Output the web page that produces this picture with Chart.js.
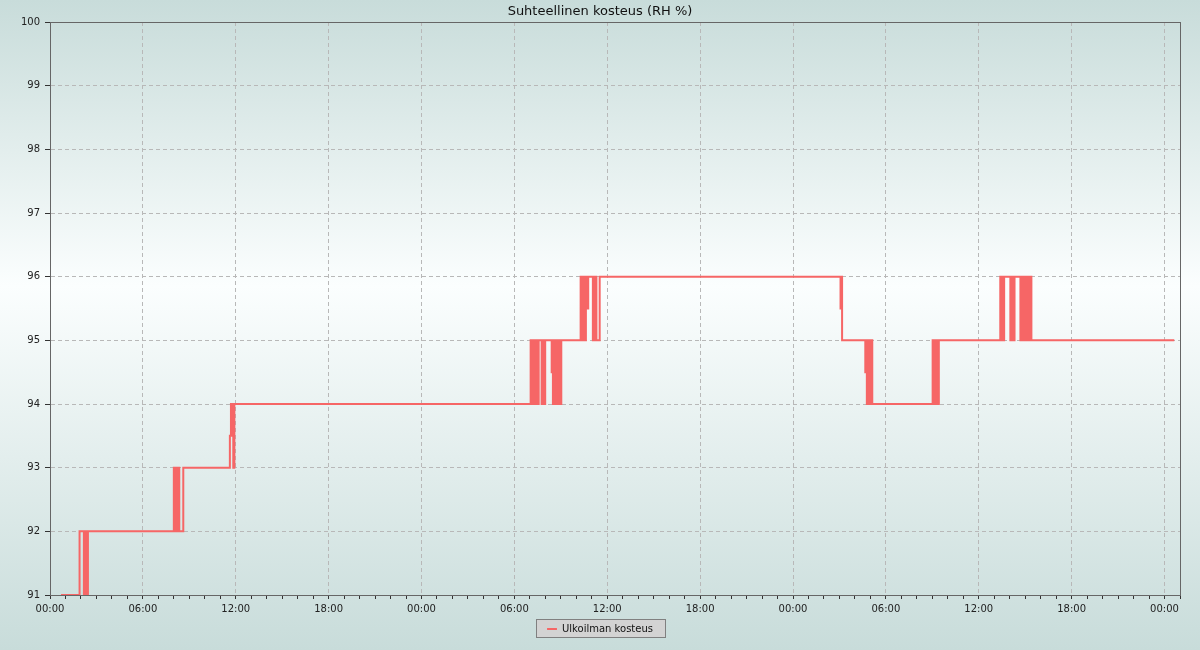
<!DOCTYPE html>
<html>
<head>
<meta charset="utf-8">
<script src="https://cdn.jsdelivr.net/npm/chart.js@4.4.1/dist/chart.umd.min.js"></script>
<style>
html,body{margin:0;padding:0;}
body{width:1200px;height:650px;overflow:hidden;background:linear-gradient(to bottom,#c8dcda 0%,#fbfefe 44%,#c8dcda 100%);}
canvas{display:block;}
</style>
</head>
<body>
<canvas id="c" width="1200" height="650"></canvas>
<script>
const chartTitle = 'Suhteellinen kosteus (RH %)';
const seriesLabel = 'Ulkoilman kosteus';

// time in hours from the first midnight
const hours = [
  0.71, 1.91, 2.19, 2.25, 2.30, 2.35, 2.40, 2.45,
  8.00, 8.06, 8.12, 8.18, 8.24, 8.35, 8.61,
  11.62, 11.69, 11.74, 11.79, 11.84, 11.91,
  31.05, 31.10, 31.15, 31.20, 31.26, 31.31, 31.36, 31.42, 31.47, 31.52, 31.57,
  31.76, 31.84, 31.91, 31.99,
  32.41, 32.43,
  32.49, 32.55, 32.61, 32.67, 32.73, 32.79, 32.85, 32.91, 32.97, 33.03,
  34.28, 34.34, 34.40, 34.46, 34.52, 34.58, 34.62,
  34.75, 34.77,
  35.07, 35.13, 35.19, 35.25, 35.30, 35.51,
  51.07, 51.09, 51.17,
  52.67, 52.72, 52.77, 52.83, 52.89, 52.95, 53.01, 53.07, 53.12,
  57.02, 57.08, 57.14, 57.20, 57.26, 57.32, 57.42,
  61.39, 61.45, 61.51, 61.62, 61.64,
  62.04, 62.10, 62.16, 62.22, 62.28, 62.31,
  62.69, 62.73, 62.80, 62.84, 62.88, 62.94, 63.00, 63.06, 63.12, 63.18, 63.24, 63.30, 63.36, 63.40,
  72.63
];
const rh = [
  91, 92, 91, 92, 91, 92, 91, 92,
  93, 92, 93, 92, 93, 92, 93,
  93.5, 94, 93.5, 94, 93, 94,
  95, 94, 95, 94, 95, 94, 95, 94, 95, 94, 95,
  94, 95, 94, 95,
  94.5, 95,
  94, 95, 94, 95, 94, 95, 94, 95, 94, 95,
  96, 95, 96, 95, 96, 95, 96,
  95.5, 96,
  95, 96, 95, 96, 95, 96,
  95.5, 96, 95,
  94.5, 95, 94, 95, 94, 95, 94, 95, 94,
  95, 94, 95, 94, 95, 94, 95,
  96, 95, 96, 95, 96,
  95, 96, 95, 96, 95, 96,
  95, 96, 95.5, 95, 96, 95, 96, 95, 96, 95, 96, 95, 96, 95,
  95
];

const xMin = 0, xMax = 73, xStep = 1, xLabelEvery = 6;
const yMin = 91, yMax = 100, yStep = 1;

Chart.defaults.font.family = "'DejaVu Sans', sans-serif";

const legendBoxPlugin = {
  id: 'legendBox',
  beforeDraw(chart) {
    const lg = chart.legend;
    if (!lg || !lg.legendHitBoxes || !lg.legendHitBoxes.length) return;
    const hb = lg.legendHitBoxes[0];
    const ctx = chart.ctx;
    const x = Math.round(hb.left - 11) + 0.5, y = Math.round(hb.top - 5) + 0.5;
    const w = Math.round(hb.width + 23), h = Math.round(hb.height + 8);
    ctx.save();
    ctx.fillStyle = '#d3d3d3';
    ctx.strokeStyle = '#808080';
    ctx.lineWidth = 1;
    ctx.fillRect(x, y, w, h);
    ctx.strokeRect(x, y, w, h);
    ctx.restore();
  }
};
const framePlugin = {
  id: 'frame',
  beforeDatasetsDraw(chart) {
    const a = chart.chartArea, ctx = chart.ctx;
    ctx.save();
    ctx.strokeStyle = '#666666';
    ctx.lineWidth = 1;
    ctx.strokeRect(a.left + 0.5, a.top + 0.5, a.right - a.left, a.bottom - a.top);
    ctx.restore();
  }
};

function pad2(n) { return (n < 10 ? '0' : '') + n; }

new Chart(document.getElementById('c'), {
  type: 'line',
  data: {
    datasets: [{
      label: seriesLabel,
      data: hours.map((h, i) => ({ x: h, y: rh[i] })),
      borderColor: 'rgb(246,102,102)',
      backgroundColor: 'rgb(246,102,102)',
      borderWidth: 2,
      pointRadius: 0,
      pointHoverRadius: 0,
      stepped: true,
      fill: false,
      tension: 0
    }]
  },
  options: {
    responsive: false,
    animation: false,
    devicePixelRatio: 1,
    layout: { padding: { top: 0, left: 0, right: 0, bottom: 6 } },
    plugins: {
      title: {
        display: true,
        text: chartTitle,
        color: '#111',
        font: { size: 13, weight: 'normal' },
        padding: { top: 4, bottom: 2.4 }
      },
      legend: {
        display: true,
        position: 'bottom',
        labels: {
          usePointStyle: true,
          pointStyle: 'line',
          boxWidth: 10,
          boxHeight: 7,
          padding: 5,
          color: '#111',
          font: { size: 10 }
        }
      },
      tooltip: { enabled: false }
    },
    scales: {
      x: {
        type: 'linear',
        position: 'bottom',
        min: xMin,
        max: xMax,
        ticks: {
          stepSize: xStep,
          autoSkip: false,
          maxRotation: 0,
          minRotation: 0,
          padding: 4,
          color: '#222',
          font: { size: 10 },
          callback: v => (v % xLabelEvery === 0) ? pad2(v % 24) + ':00' : ''
        },
        grid: {
          color: c => (c.tick && c.tick.value % xLabelEvery === 0) ? '#b8b8b8' : 'rgba(0,0,0,0)',
          tickColor: '#333',
          tickLength: 4,
          lineWidth: 1
        },
        border: { color: '#666', width: 1, dash: [4, 3] },
        afterFit: s => { s.height = 24; }
      },
      y: {
        min: yMin,
        max: yMax,
        ticks: { stepSize: yStep, padding: 5, color: '#222', font: { size: 10 } },
        grid: { color: '#b8b8b8', tickColor: '#333', tickLength: 5, lineWidth: 1 },
        border: { color: '#666', width: 1, dash: [4, 3] },
        afterFit: s => { s.width = 50; }
      },
      y2: {
        position: 'right',
        display: true,
        grid: { display: false },
        ticks: { display: false },
        border: { display: false },
        afterFit: s => { s.width = 20; }
      }
    }
  },
  plugins: [legendBoxPlugin, framePlugin]
});
</script>
</body>
</html>
